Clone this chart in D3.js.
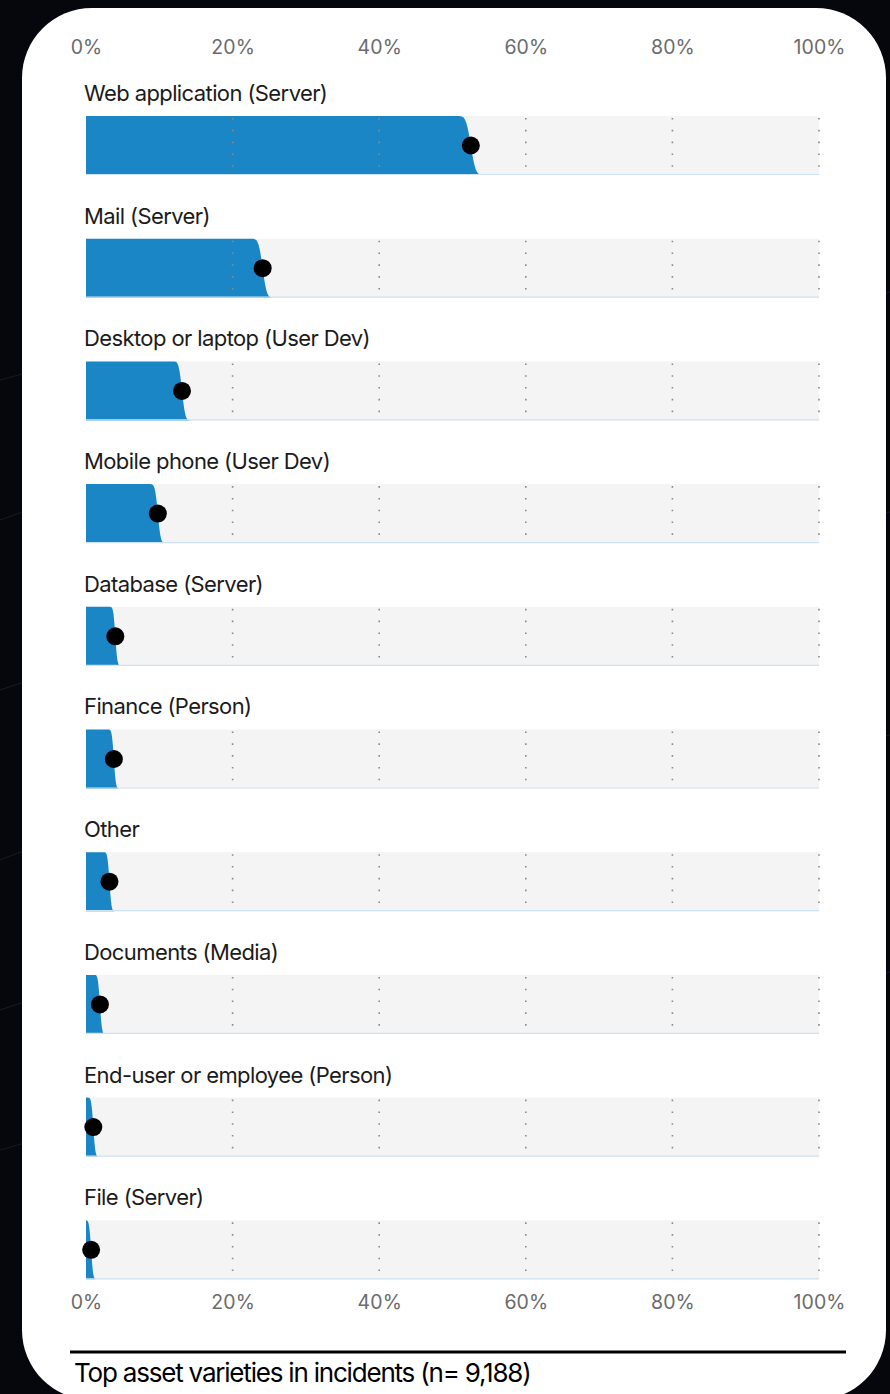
<!DOCTYPE html>
<html>
<head>
<meta charset="utf-8">
<script src="https://cdn.jsdelivr.net/npm/d3@7"></script>
<style>
  html, body { margin: 0; padding: 0; background: #06070c; }
  svg { display: block; }
</style>
</head>
<body>
<svg id="chart" width="890" height="1394"></svg>
<script>
// Asset varieties and their share of incidents (percent)
const categories = [
  "Web application (Server)",
  "Mail (Server)",
  "Desktop or laptop (User Dev)",
  "Mobile phone (User Dev)",
  "Database (Server)",
  "Finance (Person)",
  "Other",
  "Documents (Media)",
  "End-user or employee (Person)",
  "File (Server)"
];
const shares = [52.5, 24.1, 13.1, 9.8, 4.0, 3.8, 3.2, 1.9, 1.0, 0.7];
const tickValues = [0, 20, 40, 60, 80, 100];
const sampleSize = 9188;
const caption = "Top asset varieties in incidents (n= 9,188)";

const W = 890, H = 1394;
const svg = d3.select("#chart");

// dark backdrop with a few faint streaks
svg.append("rect").attr("width", W).attr("height", H).attr("fill", "#06070c");
const streaks = svg.append("g").attr("stroke", "#1b2436").attr("stroke-width", 1).attr("opacity", 0.7);
[[0, 380, 30, 372], [0, 520, 28, 510], [0, 690, 30, 680], [0, 860, 26, 850], [0, 1010, 30, 1000],
 [0, 1150, 28, 1142], [860, 300, 890, 292], [860, 520, 890, 512], [860, 740, 890, 735], [860, 980, 890, 972]]
  .forEach(s => streaks.append("line").attr("x1", s[0]).attr("y1", s[1]).attr("x2", s[2]).attr("y2", s[3]));

// white card
svg.append("rect")
  .attr("x", 22).attr("y", 8).attr("width", 864).attr("height", 1392)
  .attr("rx", 70).attr("ry", 70).attr("fill", "#ffffff");

const x = d3.scaleLinear().domain([0, 100]).range([86, 819]);
const y = d3.scaleBand().domain(categories).range([116, 1279.3]).paddingInner(0.519).paddingOuter(0);
const barH = y.bandwidth();

const font = "Inter, 'Noto Sans', sans-serif";

// axes top and bottom
function drawAxis(axis, ty) {
  const g = svg.append("g").attr("transform", `translate(0,${ty})`).call(axis);
  g.select(".domain").remove();
  g.selectAll(".tick line").remove();
  g.selectAll(".tick text")
    .attr("font-family", font).attr("font-size", 19.5).attr("fill", "#6b6b6b")
    .attr("letter-spacing", "0.1px");
  return g;
}
drawAxis(d3.axisTop(x).tickValues(tickValues).tickFormat(d => d + "%").tickSize(0).tickPadding(0), 54);
drawAxis(d3.axisBottom(x).tickValues(tickValues).tickFormat(d => d + "%").tickSize(0).tickPadding(0), 1295);

function erf(z) {
  const t = 1 / (1 + 0.3275911 * Math.abs(z));
  const yv = 1 - (((((1.061405429 * t - 1.453152027) * t) + 1.421413741) * t - 0.284496736) * t + 0.254829592) * t * Math.exp(-z * z);
  return z >= 0 ? yv : -yv;
}
const cdf = (v, m, s) => 0.5 * (1 + erf((v - m) / (s * Math.SQRT2)));

const rows = svg.append("g");
categories.forEach((cat, i) => {
  const p = shares[i];
  const top = y(cat);
  const g = rows.append("g");

  // label
  g.append("text")
    .attr("x", 84).attr("y", top - 15)
    .attr("font-family", font).attr("font-size", 22).attr("fill", "#1b1b1b")
    .attr("letter-spacing", "-0.6px")
    .text(cat);

  // light background track
  g.append("rect")
    .attr("x", x(0)).attr("y", top).attr("width", x(100) - x(0)).attr("height", barH)
    .attr("fill", "#f4f4f4");

  // complementary-CDF slab of the estimate (binomial standard error)
  const sd = Math.max(Math.sqrt((p / 100) * (1 - p / 100) / sampleSize) * 100, 0.22);
  const lo = Math.max(0, p - 4 * sd), hi = Math.min(100, p + 4 * sd);
  const pts = [[x(0), top + barH], [x(0), top]];
  const steps = 60;
  for (let k = 0; k <= steps; k++) {
    const v = lo + (hi - lo) * k / steps;
    const thick = 1 - cdf(v, p, sd);
    pts.push([x(v), top + barH - thick * barH]);
  }
  pts.push([x(hi), top + barH]);
  g.append("path")
    .attr("d", d3.line()(pts) + "Z")
    .attr("fill", "#1a86c6");

  // thin baseline
  g.append("line")
    .attr("x1", x(0)).attr("x2", x(100))
    .attr("y1", top + barH - 0.5).attr("y2", top + barH - 0.5)
    .attr("stroke", "#cfe2f1").attr("stroke-width", 1.2);

  // dotted gridlines
  tickValues.filter(t => t > 0).forEach(t => {
    g.append("line")
      .attr("x1", x(t)).attr("x2", x(t))
      .attr("y1", top + 2).attr("y2", top + barH)
      .attr("stroke", "#8a8a8a").attr("stroke-width", 1.6)
      .attr("stroke-dasharray", "1.6 10.2");
  });

  // point estimate
  g.append("circle")
    .attr("cx", x(p)).attr("cy", top + barH / 2)
    .attr("r", 9).attr("fill", "#000");
});

// caption rule and title
svg.append("line")
  .attr("x1", 70).attr("x2", 846).attr("y1", 1352).attr("y2", 1352)
  .attr("stroke", "#000").attr("stroke-width", 3);
svg.append("text")
  .attr("x", 74).attr("y", 1382)
  .attr("font-family", font).attr("font-size", 26).attr("fill", "#000")
  .attr("letter-spacing", "-1.2px")
  .text(caption);
</script>
</body>
</html>
